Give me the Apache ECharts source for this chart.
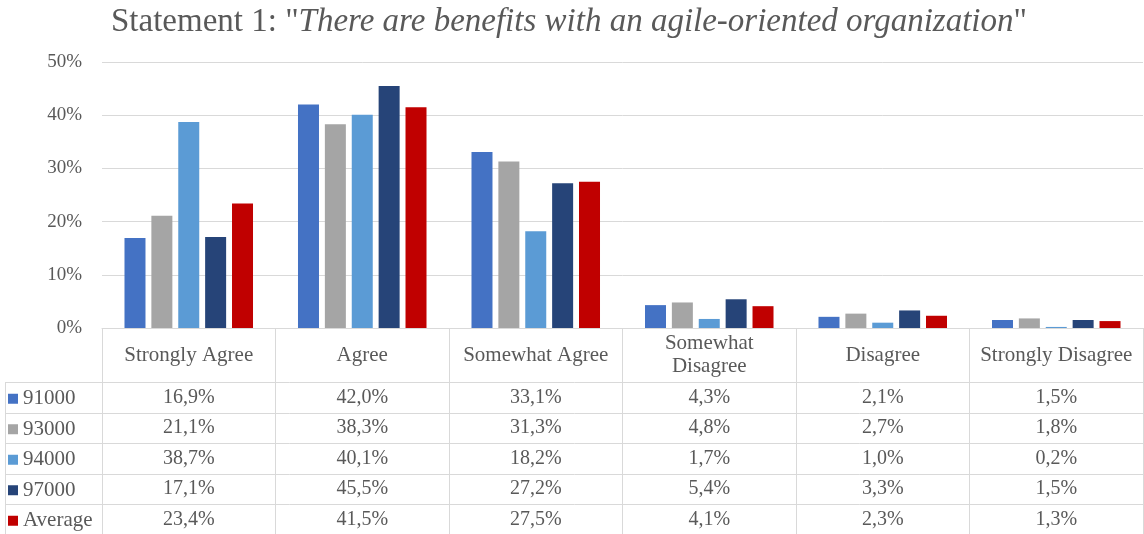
<!DOCTYPE html>
<html>
<head>
<meta charset="utf-8">
<script src="https://cdn.jsdelivr.net/npm/echarts@6/dist/echarts.min.js"></script>
<style>
  html, body { margin: 0; padding: 0; background: #fff; }
  #chart { width: 1144px; height: 534px; }
</style>
</head>
<body>
<div id="chart"></div>
<script>
// categories + series (percent values)
var categories = ['Strongly Agree', 'Agree', 'Somewhat Agree', 'Somewhat\nDisagree', 'Disagree', 'Strongly Disagree'];
var seriesNames = ['91000', '93000', '94000', '97000', 'Average'];
var s91000 = [16.9, 42.0, 33.1, 4.3, 2.1, 1.5];
var s93000 = [21.1, 38.3, 31.3, 4.8, 2.7, 1.8];
var s94000 = [38.7, 40.1, 18.2, 1.7, 1.0, 0.2];
var s97000 = [17.1, 45.5, 27.2, 5.4, 3.3, 1.5];
var sAverage = [23.4, 41.5, 27.5, 4.1, 2.3, 1.3];
var yTicks = [0, 10, 20, 30, 40, 50];
var colors = ['#4472C4', '#A5A5A5', '#5B9BD5', '#264478', '#C00000'];
var allValues = [s91000, s93000, s94000, s97000, sAverage];

var font = '"Liberation Serif", "Times New Roman", serif';
var textColor = '#595959';
var lineColor = '#d9d9d9';

// layout of the table under the plot
var gridTop = 62, axisY = 328, headerH = 54, rowH = 30.5;
function fmt(v) { return v.toFixed(1).replace('.', ',') + '%'; }

var chartObj = echarts.init(document.getElementById('chart'));

var xAxes = [{
  type: 'category',
  data: categories,
  axisLine: { lineStyle: { color: lineColor } },
  axisTick: { show: true, interval: 0, length: 534 - axisY, lineStyle: { color: lineColor } },
  axisLabel: {
    interval: 0, margin: headerH / 2, verticalAlign: 'middle',
    color: textColor, fontFamily: font, fontSize: 21, lineHeight: 23
  }
}];
// one hidden axis per table row, carrying the formatted values
allValues.forEach(function (arr, i) {
  xAxes.push({
    type: 'category',
    data: arr.map(fmt),
    position: 'bottom',
    axisLine: { show: false },
    axisTick: { show: false },
    axisLabel: {
      interval: 0, margin: headerH + rowH * i + rowH / 2, verticalAlign: 'middle',
      color: textColor, fontFamily: font, fontSize: 20
    }
  });
});

var legends = seriesNames.map(function (n, i) {
  return {
    data: [n],
    left: 8,
    top: axisY + headerH + rowH * i + rowH / 2 - 9,
    itemWidth: 10, itemHeight: 10, icon: 'rect',
    itemGap: 0,
    padding: 0,
    selectedMode: false,
    textStyle: { color: textColor, fontFamily: font, fontSize: 21, padding: [0, 0, 0, 0] }
  };
});

// table row lines
var graphics = [];
for (var r = 0; r < 6; r++) {
  var y = Math.round(axisY + headerH + rowH * r) + 0.5;
  graphics.push({ type: 'line', shape: { x1: 5, y1: y, x2: 1144, y2: y }, style: { stroke: lineColor, lineWidth: 1 }, silent: true });
}
graphics.push({ type: 'line', shape: { x1: 5.5, y1: axisY + headerH, x2: 5.5, y2: 534 }, style: { stroke: lineColor, lineWidth: 1 }, silent: true });
graphics.push({ type: 'line', shape: { x1: 1143.5, y1: axisY, x2: 1143.5, y2: 534 }, style: { stroke: lineColor, lineWidth: 1 }, silent: true });

var option = {
  backgroundColor: '#fff',
  animation: false,
  color: colors,
  title: {
    text: 'Statement 1: "{i|There are benefits with an agile-oriented organization}"',
    left: 106,
    top: 1,
    textStyle: {
      color: textColor, fontFamily: font, fontSize: 33, fontWeight: 'normal',
      rich: { i: { fontStyle: 'italic', color: textColor, fontFamily: font, fontSize: 33 } }
    }
  },
  legend: legends,
  grid: { left: 102, right: 1, top: gridTop, bottom: 534 - axisY, containLabel: false },
  xAxis: xAxes,
  yAxis: {
    type: 'value',
    min: yTicks[0],
    max: yTicks[yTicks.length - 1],
    interval: 10,
    axisLine: { show: false },
    axisTick: { show: false },
    splitLine: { lineStyle: { color: lineColor } },
    axisLabel: {
      formatter: '{value}%', margin: 20,
      color: textColor, fontFamily: font, fontSize: 19
    }
  },
  series: seriesNames.map(function (n, i) {
    return {
      name: n,
      type: 'bar',
      data: allValues[i],
      barWidth: 21,
      barGap: '28%',
      itemStyle: { color: colors[i] }
    };
  }),
  graphic: graphics
};

chartObj.setOption(option);
</script>
</body>
</html>
